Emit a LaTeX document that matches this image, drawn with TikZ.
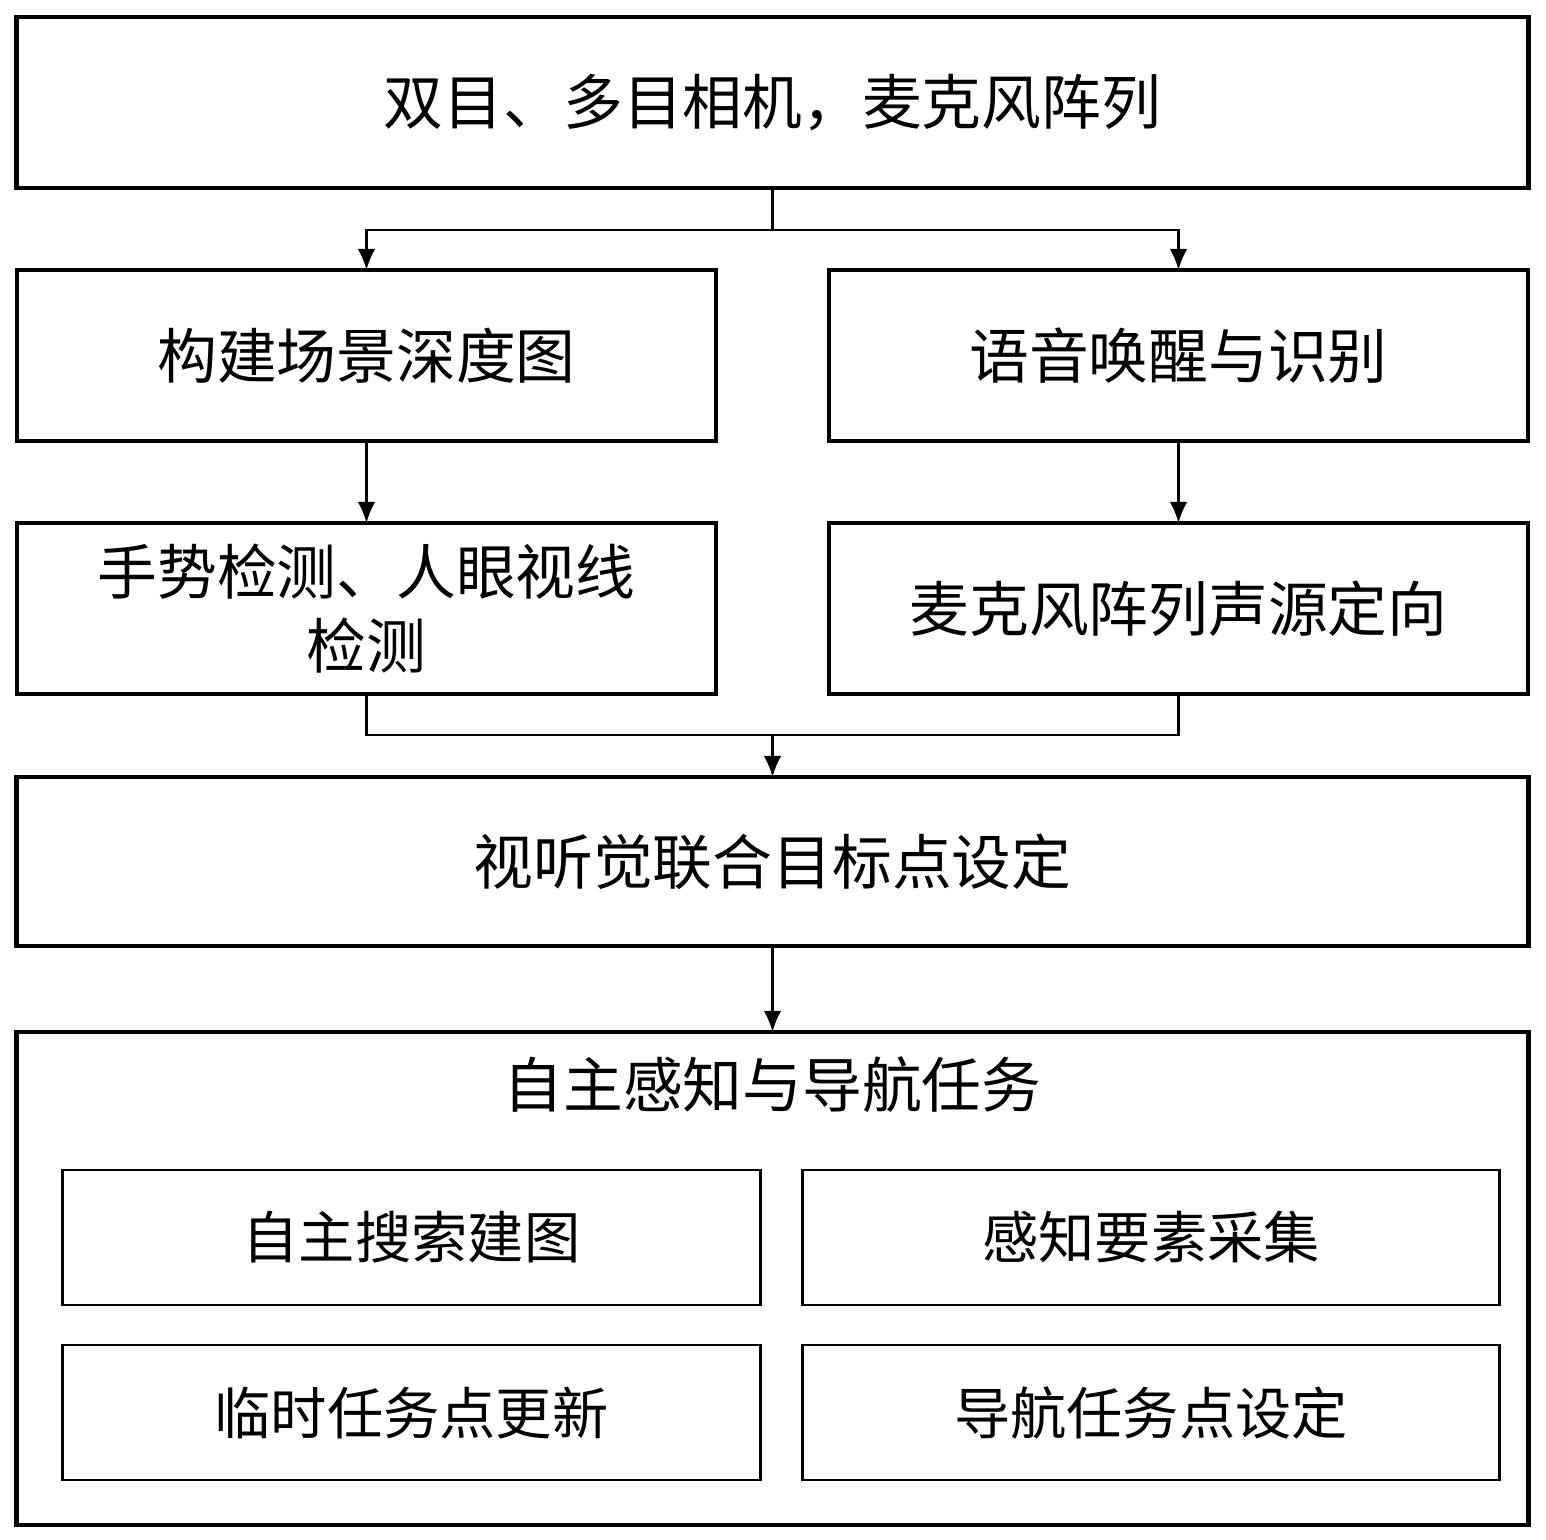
\documentclass[tikz,border=0pt]{standalone}
\usepackage{fontspec}
\newfontfamily\cjk{Noto Sans CJK SC}
\usetikzlibrary{arrows.meta}
\tikzset{
  stepbox/.style={draw, line width=1.2pt, inner sep=0pt, outer sep=0pt, align=center,
    font=\cjk\fontsize{17}{21}\selectfont},
  subbox/.style={draw, line width=0.8pt, inner sep=0pt, outer sep=0pt, align=center,
    minimum width=6.97cm, minimum height=1.35cm, font=\cjk\fontsize{16}{20}\selectfont},
  link/.style={line width=0.6pt, -{Latex[length=6pt,width=5pt]}}
}
\begin{document}
\begin{tikzpicture}[x=0.01cm, y=-0.01cm]
  \useasboundingbox (0,0) rectangle (1546,1539);
  % upper chain
  \node[stepbox, minimum width=15.11cm, minimum height=1.71cm] (cam) at (772.5,102.5) {双目、多目相机，麦克风阵列};
  \node[stepbox, minimum width=6.99cm, minimum height=1.71cm] (depth) at (366.5,355.5) {构建场景深度图};
  \node[stepbox, minimum width=6.99cm, minimum height=1.71cm] (voice) at (1178.5,355.5) {语音唤醒与识别};
  \node[stepbox, minimum width=6.99cm, minimum height=1.71cm] (gest) at (366.5,608.5) {手势检测、人眼视线\\检测};
  \node[stepbox, minimum width=6.99cm, minimum height=1.71cm] (doa) at (1178.5,608.5) {麦克风阵列声源定向};
  \node[stepbox, minimum width=15.11cm, minimum height=1.69cm] (goal) at (772.5,861.5) {视听觉联合目标点设定};
  % task block
  \node[stepbox, minimum width=15.11cm, minimum height=4.93cm] (task) at (772.5,1278.5) {};
  \node[font=\cjk\fontsize{17}{21}\selectfont] (tasktitle) at (772.5,1085) {自主感知与导航任务};
  \node[subbox] (explore) at (411.5,1237.5) {自主搜索建图};
  \node[subbox] (collect) at (1151,1237.5) {感知要素采集};
  \node[subbox] (update) at (411.5,1412.5) {临时任务点更新};
  \node[subbox] (navset) at (1151,1412.5) {导航任务点设定};
  % connectors
  \coordinate (split) at (772.5,230);
  \coordinate (merge) at (772.5,735);
  \draw[line width=0.6pt] (cam.south) -- (split);
  \draw[link] (split) -| (depth.north);
  \draw[link] (split) -| (voice.north);
  \draw[link] (depth) -- (gest);
  \draw[link] (voice) -- (doa);
  \draw[line width=0.6pt] (gest.south) |- (merge) -| (doa.south);
  \draw[link] (merge) -- (goal.north);
  \draw[link] (goal) -- (task.north);
\end{tikzpicture}
\end{document}
